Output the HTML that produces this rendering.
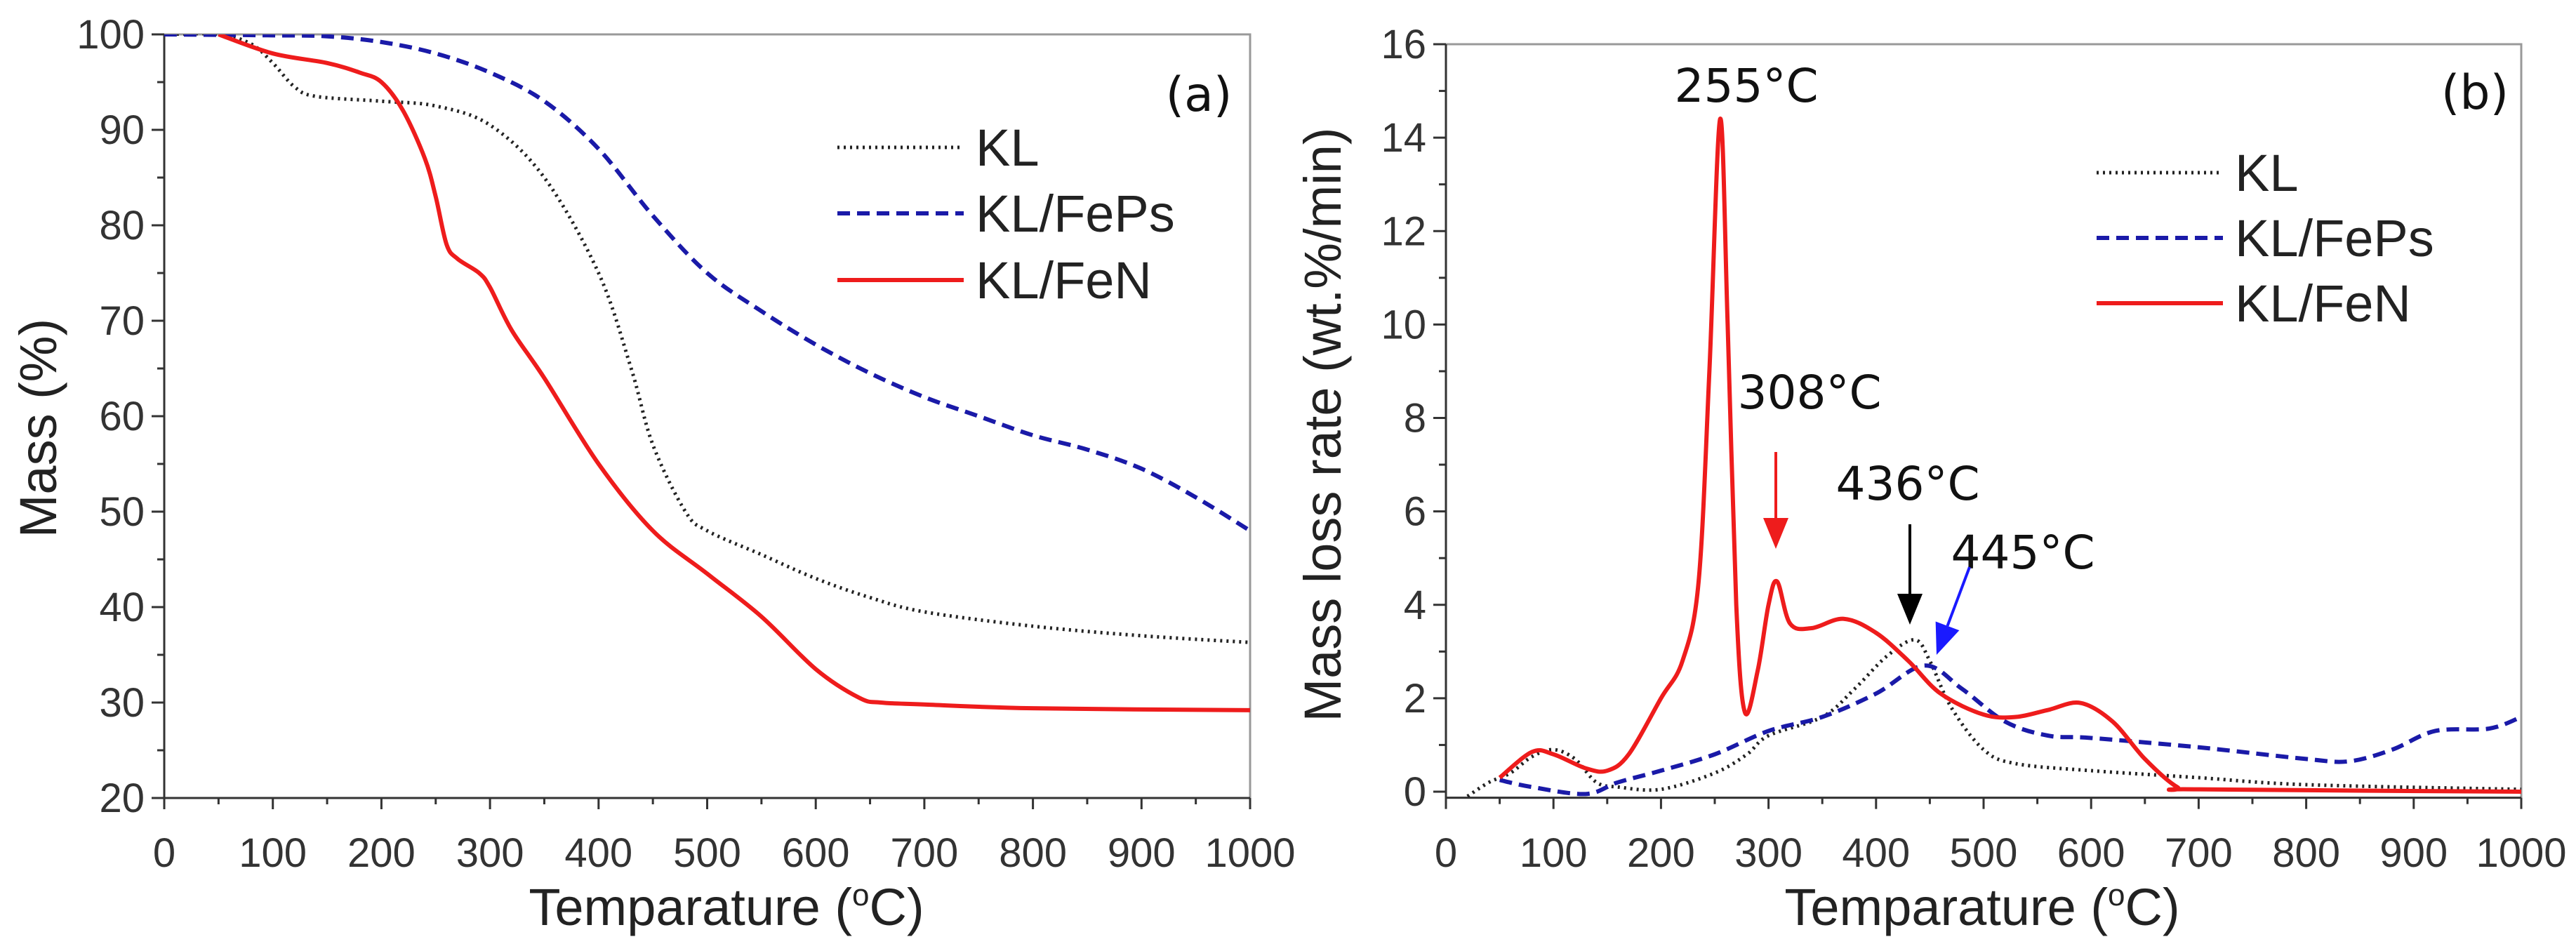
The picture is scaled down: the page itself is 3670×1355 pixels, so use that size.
<!DOCTYPE html>
<html><head><meta charset="utf-8"><style>
html,body{margin:0;padding:0;background:#fff;}
svg{display:block;font-family:"Liberation Sans",Arial,sans-serif;}
</style></head><body>
<svg id="fig" width="3670" height="1355" viewBox="0 0 3670 1355" xmlns="http://www.w3.org/2000/svg">
<g id="pa"></g>
<g id="pb"></g>
</svg>
<script>
// Panel (a) data
const aKLx = [0,50,80,100,120,140,200,250,300,350,400,430,450,480,500,550,600,650,700,800,900,1000];
const aKLy = [100,100,99,97,94.5,93.5,93,92.5,90.5,85,75,65,57,50,48,45.5,43,41,39.5,38,37,36.3];
const aFePsx = [0,100,150,200,250,300,350,400,450,500,550,600,650,700,750,800,850,900,950,1000];
const aFePsy = [100,99.9,99.8,99.2,98,96,93,88,81,75,71,67.5,64.5,62,60,58,56.5,54.5,51.5,48];
const aFeNx = [50,100,150,180,200,220,240,250,260,270,290,300,320,350,400,450,500,550,600,640,660,700,800,1000];
const aFeNy = [100,98,97,96,95,92,87,83,78,76.5,75,73.5,69,64,55,48,43.5,39,33.5,30.5,30,29.8,29.4,29.2];
const aYTicks = [20,30,40,50,60,70,80,90,100];
const xTicks = [0,100,200,300,400,500,600,700,800,900,1000];
// Panel (b) data
const bKLx = [20,40,60,80,100,120,140,160,200,250,280,300,350,380,410,436,450,470,500,530,600,700,800,1000];
const bKLy = [-0.1,0.2,0.4,0.75,0.9,0.7,0.2,0.1,0.05,0.4,0.8,1.2,1.6,2.2,2.9,3.25,2.8,1.8,0.9,0.6,0.45,0.3,0.15,0.05];
const bFePsx = [50,80,130,160,200,250,300,350,400,445,480,520,560,600,700,800,840,880,920,970,1000];
const bFePsy = [0.25,0.1,-0.05,0.2,0.45,0.8,1.3,1.6,2.1,2.7,2.2,1.5,1.2,1.15,0.95,0.7,0.65,0.9,1.3,1.35,1.6];
const bFeNx = [50,80,100,130,150,170,200,220,235,245,255,262,270,278,290,300,308,320,340,370,400,430,460,500,530,560,590,620,650,680,700,1000];
const bFeNy = [0.3,0.85,0.8,0.5,0.45,0.8,2.0,2.8,4.5,9,14.4,10,4,1.7,2.6,4.0,4.5,3.6,3.5,3.7,3.4,2.8,2.1,1.65,1.6,1.75,1.9,1.5,0.7,0.1,0.05,0.0];
const bYTicks = [0,2,4,6,8,10,12,14,16];
const annTexts = ["255°C","308°C","436°C","445°C"];

const NS="http://www.w3.org/2000/svg";
function mk(parent,tag,attrs,text){const e=document.createElementNS(NS,tag);for(const k in attrs)e.setAttribute(k,attrs[k]);if(text!==undefined)e.textContent=text;parent.appendChild(e);return e;}
function smooth(pts){let d="M"+pts[0][0]+","+pts[0][1];for(let i=0;i<pts.length-1;i++){const p0=pts[i-1]||pts[i],p1=pts[i],p2=pts[i+1],p3=pts[i+2]||p2;const c1x=p1[0]+(p2[0]-p0[0])/6,c1y=p1[1]+(p2[1]-p0[1])/6,c2x=p2[0]-(p3[0]-p1[0])/6,c2y=p2[1]-(p3[1]-p1[1])/6;d+=" C"+c1x+","+c1y+" "+c2x+","+c2y+" "+p2[0]+","+p2[1];}return d;}
const styles={KL:{stroke:"#222",w:5,dash:"3,6"},FePs:{stroke:"#1a1aa8",w:6,dash:"18,10"},FeN:{stroke:"#ee1c1c",w:6,dash:""}};

function panel(g,cfg){
  const X=v=>cfg.x0+(v-0)/1000*(cfg.x1-cfg.x0);
  const Y=v=>cfg.yb+(v-cfg.ymin)/(cfg.ymax-cfg.ymin)*(cfg.yt-cfg.yb);
  const fb=Y(cfg.frameMin);
  const frame=mk(g,"rect",{x:cfg.x0,y:cfg.yt,width:cfg.x1-cfg.x0,height:fb-cfg.yt,fill:"none",stroke:"#999","stroke-width":3});
  
  
  const ax=mk(g,"path",{d:`M${cfg.x0},${cfg.yt} V${fb} H${cfg.x1}`,fill:"none",stroke:"#333","stroke-width":3});
  
  
  // x ticks
  xTicks.forEach((t,i)=>{
    mk(g,"line",{x1:X(t),x2:X(t),y1:fb,y2:fb+16,stroke:"#333","stroke-width":3});
    if(i<xTicks.length-1) mk(g,"line",{x1:X(t+50),x2:X(t+50),y1:fb,y2:fb+9,stroke:"#333","stroke-width":3});
    const tl=mk(g,"text",{x:X(t),y:1235,"font-size":58,"text-anchor":"middle",fill:"#333"},String(t));
    
    
  });
  cfg.yTicks.forEach((t,i)=>{
    mk(g,"line",{x1:cfg.x0-18,x2:cfg.x0,y1:Y(t),y2:Y(t),stroke:"#333","stroke-width":3});
    if(i<cfg.yTicks.length-1){const m=(t+cfg.yTicks[i+1])/2;mk(g,"line",{x1:cfg.x0-10,x2:cfg.x0,y1:Y(m),y2:Y(m),stroke:"#333","stroke-width":3});}
    const tl=mk(g,"text",{x:cfg.x0-28,y:Y(t)+20,"font-size":58,"text-anchor":"end",fill:"#333"},String(t));
    
    
  });
  const xt=mk(g,"text",{x:cfg.xtx,y:1318,"font-size":74,"text-anchor":"middle",fill:"#222"});
  xt.innerHTML='Temparature (<tspan font-size="44" dy="-28">o</tspan><tspan dy="28">C)</tspan>';
  
  
  const yt=mk(g,"text",{x:cfg.ytx,y:cfg.yty,"font-size":74,"text-anchor":"middle",fill:"#222",transform:`rotate(-90 ${cfg.ytx} ${cfg.yty})`},cfg.ytitle);
  
  
  const clip=mk(g,"clipPath",{id:"c"+cfg.id});mk(clip,"rect",{x:cfg.x0,y:cfg.yt,width:cfg.x1-cfg.x0,height:fb-cfg.yt});
  cfg.series.forEach(s=>{
    const st=styles[s.name];
    const pts=s.x.map((v,i)=>[X(v),Y(s.y[i])]);
    const p=mk(g,"path",{d:smooth(pts),fill:"none",stroke:st.stroke,"stroke-width":st.w,"stroke-dasharray":st.dash,"clip-path":`url(#c${cfg.id})`,"stroke-linejoin":"round"});
    
    
  });
  // legend
  ["KL","FePs","FeN"].forEach((n,i)=>{
    const st=styles[n];const y=cfg.legY[i];
    const l=mk(g,"line",{x1:cfg.legX,x2:cfg.legX+180,y1:y,y2:y,stroke:st.stroke,"stroke-width":st.w,"stroke-dasharray":st.dash});
    
    
    const t=mk(g,"text",{x:cfg.legX+197,y:y+26,"font-size":74,fill:"#222"},n==="KL"?"KL":"KL/"+n);
    
    
  });
  const pl=mk(g,"text",{x:cfg.plx,y:cfg.ply,"font-size":68,"text-anchor":"middle",fill:"#111","font-family":"DejaVu Sans, sans-serif"},cfg.plabel);
  
  
  return {X,Y};
}

panel(document.getElementById("pa"),{id:"a",x0:234,x1:1781,yt:49,yb:1137,ymin:20,ymax:100,frameMin:20,yTicks:aYTicks,
  ytitle:"Mass (%)",ytx:80,yty:610,xtx:1035,legX:1193,legY:[210,304,399],plx:1708,ply:158,plabel:"(a)",
  series:[{name:"KL",x:aKLx,y:aKLy},{name:"FePs",x:aFePsx,y:aFePsy},{name:"FeN",x:aFeNx,y:aFeNy}]});
const b=panel(document.getElementById("pb"),{id:"b",x0:2060,x1:3592,yt:63,yb:1128,ymin:0,ymax:16,frameMin:-0.13,yTicks:bYTicks,
  ytitle:"Mass loss rate (wt.%/min)",ytx:1910,yty:605,xtx:2824,legX:2987,legY:[246,339,432],plx:3526,ply:155,plabel:"(b)",
  series:[{name:"KL",x:bKLx,y:bKLy},{name:"FePs",x:bFePsx,y:bFePsy},{name:"FeN",x:bFeNx,y:bFeNy}]});

// annotations
const gb=document.getElementById("pb");
const annPos=[[2488,145],[2578,582],[2718,712],[2882,810]];
annTexts.forEach((t,i)=>{
  const e=mk(gb,"text",{x:annPos[i][0],y:annPos[i][1],"font-size":66,"text-anchor":"middle",fill:"#111","font-family":"DejaVu Sans, sans-serif"},t);
  
  
});
function arrow(x1,y1,x2,y2,c,name){
  const g=mk(gb,"g",{});
  
  
  const dx=x2-x1,dy=y2-y1,L=Math.hypot(dx,dy),ux=dx/L,uy=dy/L,hl=44,hw=18;
  const bx=x2-ux*hl,by=y2-uy*hl;
  mk(g,"line",{x1:x1,y1:y1,x2:bx,y2:by,stroke:c,"stroke-width":4});
  mk(g,"polygon",{points:`${x2},${y2} ${bx-uy*hw},${by+ux*hw} ${bx+uy*hw},${by-ux*hw}`,fill:c});
}
arrow(2530,644,2530,782,"#ee1c1c","arrow-308");
arrow(2721,747,2721,890,"#000","arrow-436");
arrow(2806,808,2759,933,"#1a1aff","arrow-445");
</script>
</body></html>
